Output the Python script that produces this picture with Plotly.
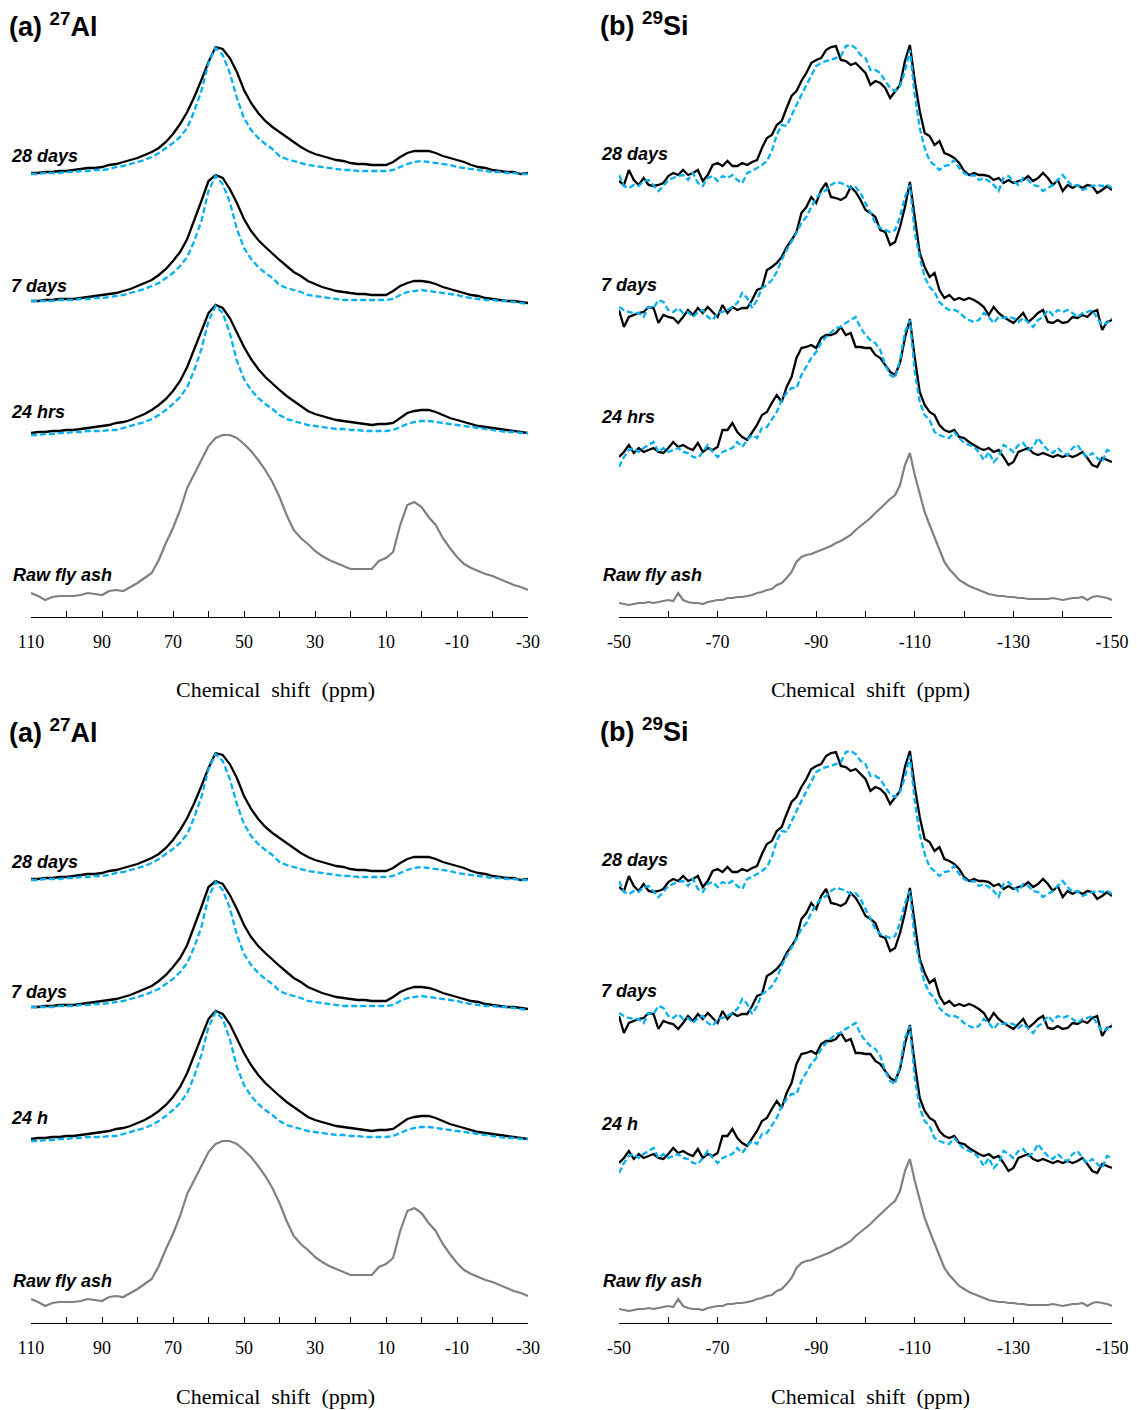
import plotly.graph_objects as go

# ---------------- data (intensities above each trace's own baseline) ----------------
AL_PPM = [110, 108, 106, 104, 102, 100, 98, 96, 94, 92,
          90, 88, 86, 84, 82, 80, 78, 76, 74, 72,
          70, 68, 66, 64, 62, 60, 58, 56, 54, 52,
          50, 48, 46, 44, 42, 40, 38, 36, 34, 32,
          30, 28, 26, 24, 22, 20, 18, 16, 14, 12,
          10, 8, 6, 4, 2, 0, -2, -4, -6, -8,
          -10, -12, -14, -16, -18, -20, -22, -24, -26, -28,
          -30]

AL_28D_BLACK = [0, 0, 1, 1, 2, 2, 3, 4, 5, 5,
                6, 8, 9, 11, 13, 15, 18, 21, 25, 31,
                39, 49, 61, 76, 93, 111, 126, 124, 115, 101,
                83, 70, 60, 52, 46, 41, 36, 31, 26, 22,
                19, 17, 15, 13, 12, 10, 9, 9, 8, 8,
                8, 11, 16, 20, 22, 22, 22, 20, 17, 15,
                13, 11, 8, 6, 5, 3, 2, 1, 1, -1,
                0]
AL_28D_BLUE = [-1, -1, 0, 0, 0, 1, 1, 2, 2, 3,
               3, 4, 6, 7, 9, 11, 13, 16, 20, 25,
               30, 36, 45, 62, 82, 110, 125, 118, 100, 75,
               55, 43, 35, 29, 24, 17, 14, 12, 10, 8,
               7, 6, 5, 4, 3, 3, 2, 2, 2, 2,
               2, 3, 6, 9, 11, 12, 11, 10, 9, 8,
               6, 5, 4, 3, 2, 1, 1, 0, 0, -1,
               -1]
AL_7D_BLACK = [0, 0, 1, 1, 2, 2, 2, 3, 4, 5,
               6, 7, 8, 10, 12, 15, 18, 21, 26, 32,
               40, 49, 62, 80, 100, 120, 126, 123, 112, 98,
               82, 70, 61, 54, 47, 41, 35, 29, 25, 20,
               17, 14, 12, 10, 9, 8, 7, 7, 6, 6,
               6, 10, 15, 18, 20, 20, 19, 17, 14, 12,
               10, 8, 6, 5, 3, 2, 1, 0, 0, -1,
               -2]
AL_7D_BLUE = [0, 0, 0, 0, 1, 1, 1, 2, 2, 3,
              3, 4, 5, 6, 8, 10, 12, 15, 18, 23,
              28, 35, 44, 60, 80, 110, 125, 117, 99, 72,
              53, 42, 34, 28, 23, 16, 13, 11, 9, 6,
              5, 4, 3, 2, 1, 1, 1, 1, 1, 1,
              1, 2, 6, 9, 10, 11, 10, 9, 8, 7,
              6, 4, 3, 2, 1, 1, 0, 0, -1, -2,
              -3]
AL_24H_BLACK = [0, 1, 1, 2, 2, 3, 3, 4, 5, 6,
                7, 8, 10, 11, 13, 16, 19, 23, 28, 34,
                42, 52, 66, 84, 102, 120, 128, 125, 115, 101,
                86, 74, 64, 56, 49, 43, 37, 32, 27, 22,
                19, 17, 15, 13, 12, 11, 10, 9, 8, 9,
                9, 10, 15, 20, 22, 23, 23, 21, 18, 15,
                13, 11, 9, 7, 6, 5, 4, 3, 2, 1,
                0]
AL_24H_BLUE = [-2, -2, -1, -1, 0, 0, 1, 1, 2, 2,
               2, 3, 3, 5, 7, 9, 11, 14, 18, 23,
               29, 36, 46, 63, 84, 112, 127, 120, 100, 72,
               54, 43, 35, 29, 24, 18, 14, 12, 10, 8,
               7, 6, 5, 4, 4, 3, 3, 2, 2, 2,
               2, 3, 6, 9, 11, 12, 12, 11, 10, 9,
               8, 7, 6, 5, 4, 3, 2, 1, 1, 0,
               0]
AL_RAW = [2, -1, -5, -2, -1, -1, -1, 0, 2, 1,
          0, 4, 5, 4, 8, 12, 17, 22, 35, 52,
          67, 85, 107, 121, 134, 149, 157, 160, 160, 157,
          151, 144, 135, 125, 113, 98, 80, 65, 57, 51,
          44, 39, 35, 32, 29, 26, 26, 26, 26, 34,
          37, 43, 70, 90, 93, 88, 78, 70, 57, 47,
          38, 31, 27, 24, 21, 19, 16, 13, 10, 8,
          5]

SI_PPM = [-50, -51, -52, -53, -54, -55, -56, -57, -58, -59,
          -60, -61, -62, -63, -64, -65, -66, -67, -68, -69,
          -70, -71, -72, -73, -74, -75, -76, -77, -78, -79,
          -80, -81, -82, -83, -84, -85, -86, -87, -88, -89,
          -90, -91, -92, -93, -94, -95, -96, -97, -98, -99,
          -100, -101, -102, -103, -104, -105, -106, -107, -108, -109,
          -110, -111, -112, -113, -114, -115, -116, -117, -118, -119,
          -120, -121, -122, -123, -124, -125, -126, -127, -128, -129,
          -130, -131, -132, -133, -134, -135, -136, -137, -138, -139,
          -140, -141, -142, -143, -144, -145, -146, -147, -148, -149,
          -150]

SI_28D_BLACK = [2, -2, 13, 3, -2, 5, -2, -3, -2, 0,
                7, 10, 8, 13, 8, 10, 13, 2, 8, 18,
                20, 17, 22, 17, 17, 20, 18, 21, 23, 35,
                45, 48, 58, 62, 75, 87, 92, 102, 110, 120,
                123, 125, 133, 136, 137, 123, 122, 118, 120, 115,
                110, 98, 102, 100, 95, 85, 92, 98, 122, 138,
                102, 72, 50, 47, 38, 42, 30, 28, 25, 20,
                12, 8, 10, 8, 8, 7, 3, 5, 0, 3,
                0, 2, 3, 7, 2, 5, 10, 5, -2, 3,
                -8, -2, -5, -2, -5, -2, -3, -10, -7, -3,
                -7]
SI_28D_BLUE = [8, -3, -5, -2, -3, 2, 3, -3, -8, -3,
               3, 5, 7, 8, 3, 10, 0, -3, 5, 7,
               2, 7, 5, 8, 3, 0, 10, 12, 15, 18,
               22, 32, 48, 58, 57, 68, 78, 88, 98, 108,
               117, 120, 122, 123, 125, 127, 137, 138, 135, 128,
               125, 113, 113, 110, 102, 95, 92, 97, 112, 133,
               88, 55, 35, 22, 18, 13, 17, 18, 23, 15,
               10, 7, 8, 3, 5, 2, -2, -8, 5, 7,
               2, -2, 5, 3, -2, -3, -8, -5, -2, 3,
               8, 2, -3, -2, -7, -5, -3, -2, -3, -2,
               -5]
SI_7D_BLACK = [5, -12, -2, 0, 2, 3, 8, 7, -8, 0,
               -2, -3, -8, -2, 5, 0, 7, 2, 8, 3,
               -2, 10, 2, 8, 5, 7, 7, 15, 25, 27,
               45, 48, 52, 58, 68, 75, 83, 102, 108, 118,
               112, 125, 132, 118, 117, 115, 118, 128, 123, 115,
               105, 102, 98, 85, 83, 70, 73, 88, 108, 133,
               95, 62, 48, 38, 42, 25, 17, 20, 15, 17,
               15, 17, 15, 12, 8, 0, 8, 2, -2, -5,
               -8, -3, 2, -7, -3, 2, 5, -7, -8, -5,
               -8, -7, -2, -3, 0, -2, 3, 5, -15, -7,
               -5]
SI_7D_BLUE = [8, 5, 3, 2, 2, -2, 8, 7, 15, 13,
              5, 3, 7, 2, 3, -2, 3, 5, -2, -5,
              2, 3, 5, 8, 12, 22, 17, 7, 15, 27,
              30, 35, 43, 55, 65, 73, 82, 92, 98, 108,
              117, 122, 125, 130, 133, 132, 130, 127, 128, 122,
              112, 102, 92, 87, 85, 83, 85, 98, 118, 130,
              82, 58, 38, 28, 23, 13, 8, 5, 5, 3,
              -2, -5, -7, -5, 2, -2, -8, -2, -3, -2,
              -3, -7, -3, -8, -12, -5, -2, 5, 0, 5,
              3, 5, 2, -2, 2, 3, 5, -3, -10, -8,
              -3]
SI_24H_BLACK = [-7, -2, 5, -3, 2, -2, 0, 2, -2, -3,
                2, 8, 3, 5, 2, 0, 7, -2, 2, 0,
                3, 20, 20, 27, 18, 13, 10, 18, 25, 35,
                38, 47, 55, 48, 63, 73, 92, 102, 103, 105,
                102, 112, 115, 115, 117, 123, 115, 117, 103, 103,
                102, 102, 95, 92, 85, 78, 75, 87, 112, 131,
                92, 58, 45, 38, 35, 25, 20, 18, 20, 13,
                12, 8, 5, 2, 0, 2, -2, 0, -7, -15,
                -12, -2, 0, 2, -3, -5, -3, -5, -7, -5,
                -7, -5, -7, -5, -2, -8, -15, -17, -8, -10,
                -12]
SI_24H_BLUE = [-17, -7, 0, 2, -2, 2, 5, 8, -2, 2,
               -2, 0, 2, -2, -3, -7, -8, -2, 5, -2,
               -7, -2, 0, 2, 8, 3, 10, 15, 12, 22,
               23, 30, 38, 50, 57, 62, 62, 75, 83, 92,
               98, 107, 113, 118, 122, 123, 127, 130, 133, 122,
               115, 110, 107, 100, 85, 75, 72, 90, 118, 130,
               78, 48, 35, 30, 18, 15, 13, 12, 18, 12,
               7, 5, 3, -2, -10, -2, -12, -7, 5, 2,
               -2, 5, 7, 0, 3, 12, 5, 0, -3, 2,
               -3, -5, 2, 5, -2, -7, -3, -8, -12, 0,
               -2]
SI_RAW = [-1, -2, -3, -2, -1, -1, 0, -1, 0, 1,
          2, 1, 9, 2, 0, -1, -1, -2, 0, 1,
          2, 2, 4, 4, 5, 5, 6, 7, 9, 10,
          12, 13, 17, 19, 24, 30, 40, 45, 47, 48,
          50, 52, 54, 56, 59, 61, 64, 67, 72, 76,
          80, 84, 89, 94, 99, 103, 107, 117, 137, 149,
          127, 107, 90, 77, 64, 52, 40, 33, 27, 22,
          19, 16, 14, 12, 10, 8, 7, 6, 6, 5,
          5, 4, 4, 3, 3, 3, 3, 3, 4, 3,
          2, 3, 4, 4, 5, 2, 5, 6, 5, 4,
          2]

AL_TICK_VALS = [110, 90, 70, 50, 30, 10, -10, -30]
AL_TICK_TEXT = ["110", "90", "70", "50", "30", "10", "-10", "-30"]
AL_MINOR_TICKS = [100, 80, 60, 40, 20, 0, -20]
SI_TICK_VALS = [-50, -70, -90, -110, -130, -150]
SI_TICK_TEXT = ["-50", "-70", "-90", "-110", "-130", "-150"]
SI_MINOR_TICKS = [-60, -80, -100, -120, -140]

# ---------------- layout constants ----------------
W, H = 1137, 1410
AL_OFFSETS = {"raw": 22, "24h": 184, "7d": 316, "28d": 444}
SI_OFFSETS = {"raw": 15, "24h": 167, "7d": 302, "28d": 434}
Y_SPAN = 582
ROW_AXIS_PY = [617, 1323]
AL_PX = (31, 528)
SI_PX = (619, 1112)

BLACK = "#000000"
BLUE = "#00B0F0"
GRAY = "#808080"
SERIF = "Liberation Serif, Times New Roman, serif"
SANS = "Liberation Sans, Arial, sans-serif"


def fx(px):
    return px / W


def fy(py):
    return 1 - py / H


fig = go.Figure()

panels = [
    dict(ppm=AL_PPM, raw=AL_RAW,
         pairs=[("24h", AL_24H_BLACK, AL_24H_BLUE), ("7d", AL_7D_BLACK, AL_7D_BLUE),
                ("28d", AL_28D_BLACK, AL_28D_BLUE)],
         offs=AL_OFFSETS, px=AL_PX, rng=[110, -30],
         ticks=AL_TICK_VALS, ticktext=AL_TICK_TEXT, minor=AL_MINOR_TICKS),
    dict(ppm=SI_PPM, raw=SI_RAW,
         pairs=[("24h", SI_24H_BLACK, SI_24H_BLUE), ("7d", SI_7D_BLACK, SI_7D_BLUE),
                ("28d", SI_28D_BLACK, SI_28D_BLUE)],
         offs=SI_OFFSETS, px=SI_PX, rng=[-50, -150],
         ticks=SI_TICK_VALS, ticktext=SI_TICK_TEXT, minor=SI_MINOR_TICKS),
]

layout_axes = {}
idx = 0
for row in range(2):
    axis_py = ROW_AXIS_PY[row]
    for p in panels:
        idx += 1
        xa = "x" if idx == 1 else f"x{idx}"
        ya = "y" if idx == 1 else f"y{idx}"
        offs = p["offs"]
        fig.add_trace(go.Scatter(
            x=p["ppm"], y=[v + offs["raw"] for v in p["raw"]], mode="lines",
            line=dict(color=GRAY, width=2.2), xaxis=xa, yaxis=ya, showlegend=False,
            hoverinfo="skip"))
        for key, blk, blu in p["pairs"]:
            fig.add_trace(go.Scatter(
                x=p["ppm"], y=[v + offs[key] for v in blk], mode="lines",
                line=dict(color=BLACK, width=2.3), xaxis=xa, yaxis=ya, showlegend=False,
                hoverinfo="skip"))
            fig.add_trace(go.Scatter(
                x=p["ppm"], y=[v + offs[key] for v in blu], mode="lines",
                line=dict(color=BLUE, width=2.3, dash="6px,3px"), xaxis=xa, yaxis=ya,
                showlegend=False, hoverinfo="skip"))
        xname = "xaxis" if idx == 1 else f"xaxis{idx}"
        yname = "yaxis" if idx == 1 else f"yaxis{idx}"
        layout_axes[xname] = dict(
            domain=[fx(p["px"][0]), fx(p["px"][1])], range=p["rng"], anchor=ya,
            automargin=False,
            showline=True, linecolor="#000000", linewidth=1.3, mirror=False,
            ticks="inside", ticklen=6, tickwidth=1.3, tickcolor="#000000",
            tickmode="array", tickvals=p["ticks"], ticktext=p["ticktext"],
            tickfont=dict(family=SERIF, size=18, color="#000000"),
            minor=dict(tickmode="array", tickvals=p["minor"], ticks="inside",
                       ticklen=6, tickwidth=1.3, tickcolor="#000000", showgrid=False),
            ticklabelstandoff=8, showgrid=False, zeroline=False, fixedrange=True)
        layout_axes[yname] = dict(
            domain=[fy(axis_py), fy(axis_py - Y_SPAN)], range=[0, Y_SPAN], anchor=xa,
            automargin=False,
            visible=False, showgrid=False, zeroline=False, fixedrange=True)

fig.update_layout(**layout_axes)

# ---------------- text ----------------
annotations = []


def add_text(text, px, py, size, family=SANS, xanchor="left"):
    annotations.append(dict(
        text=text, x=fx(px), y=fy(py), xref="paper", yref="paper",
        xanchor=xanchor, yanchor="middle", showarrow=False,
        font=dict(family=family, size=size, color="#000000")))


ROW_SHIFT = [0, 706]
for row in range(2):
    s = ROW_SHIFT[row]
    last = "24 hrs" if row == 0 else "24 h"
    add_text("<b>(a) <sup>27</sup>Al</b>", 7, 25 + s, 27)
    add_text("<b>(b) <sup>29</sup>Si</b>", 598, 24 + s, 27)
    add_text("<b><i>28 days</i></b>", 9, 156 + s, 18)
    add_text("<b><i>7 days</i></b>", 9, 286 + s, 18)
    add_text(f"<b><i>{last}</i></b>", 9, 412 + s, 18)
    add_text("<b><i>Raw fly ash</i></b>", 11, 575 + s, 18)
    add_text("<b><i>28 days</i></b>", 599, 154 + s, 18)
    add_text("<b><i>7 days</i></b>", 599, 285 + s, 18)
    add_text(f"<b><i>{last}</i></b>", 599, 417 if row == 0 else 1124, 18)
    add_text("<b><i>Raw fly ash</i></b>", 601, 575 + s, 18)
    add_text("Chemical  shift  (ppm)", 275, 690 + s, 22, family=SERIF, xanchor="center")
    add_text("Chemical  shift  (ppm)", 870, 690 + s, 22, family=SERIF, xanchor="center")

fig.update_layout(
    template="none",
    width=W, height=H, margin=dict(l=0, r=0, t=0, b=0, pad=0, autoexpand=False),
    paper_bgcolor="#ffffff", plot_bgcolor="rgba(0,0,0,0)",
    annotations=annotations, showlegend=False)

fig.write_html("out.html")
